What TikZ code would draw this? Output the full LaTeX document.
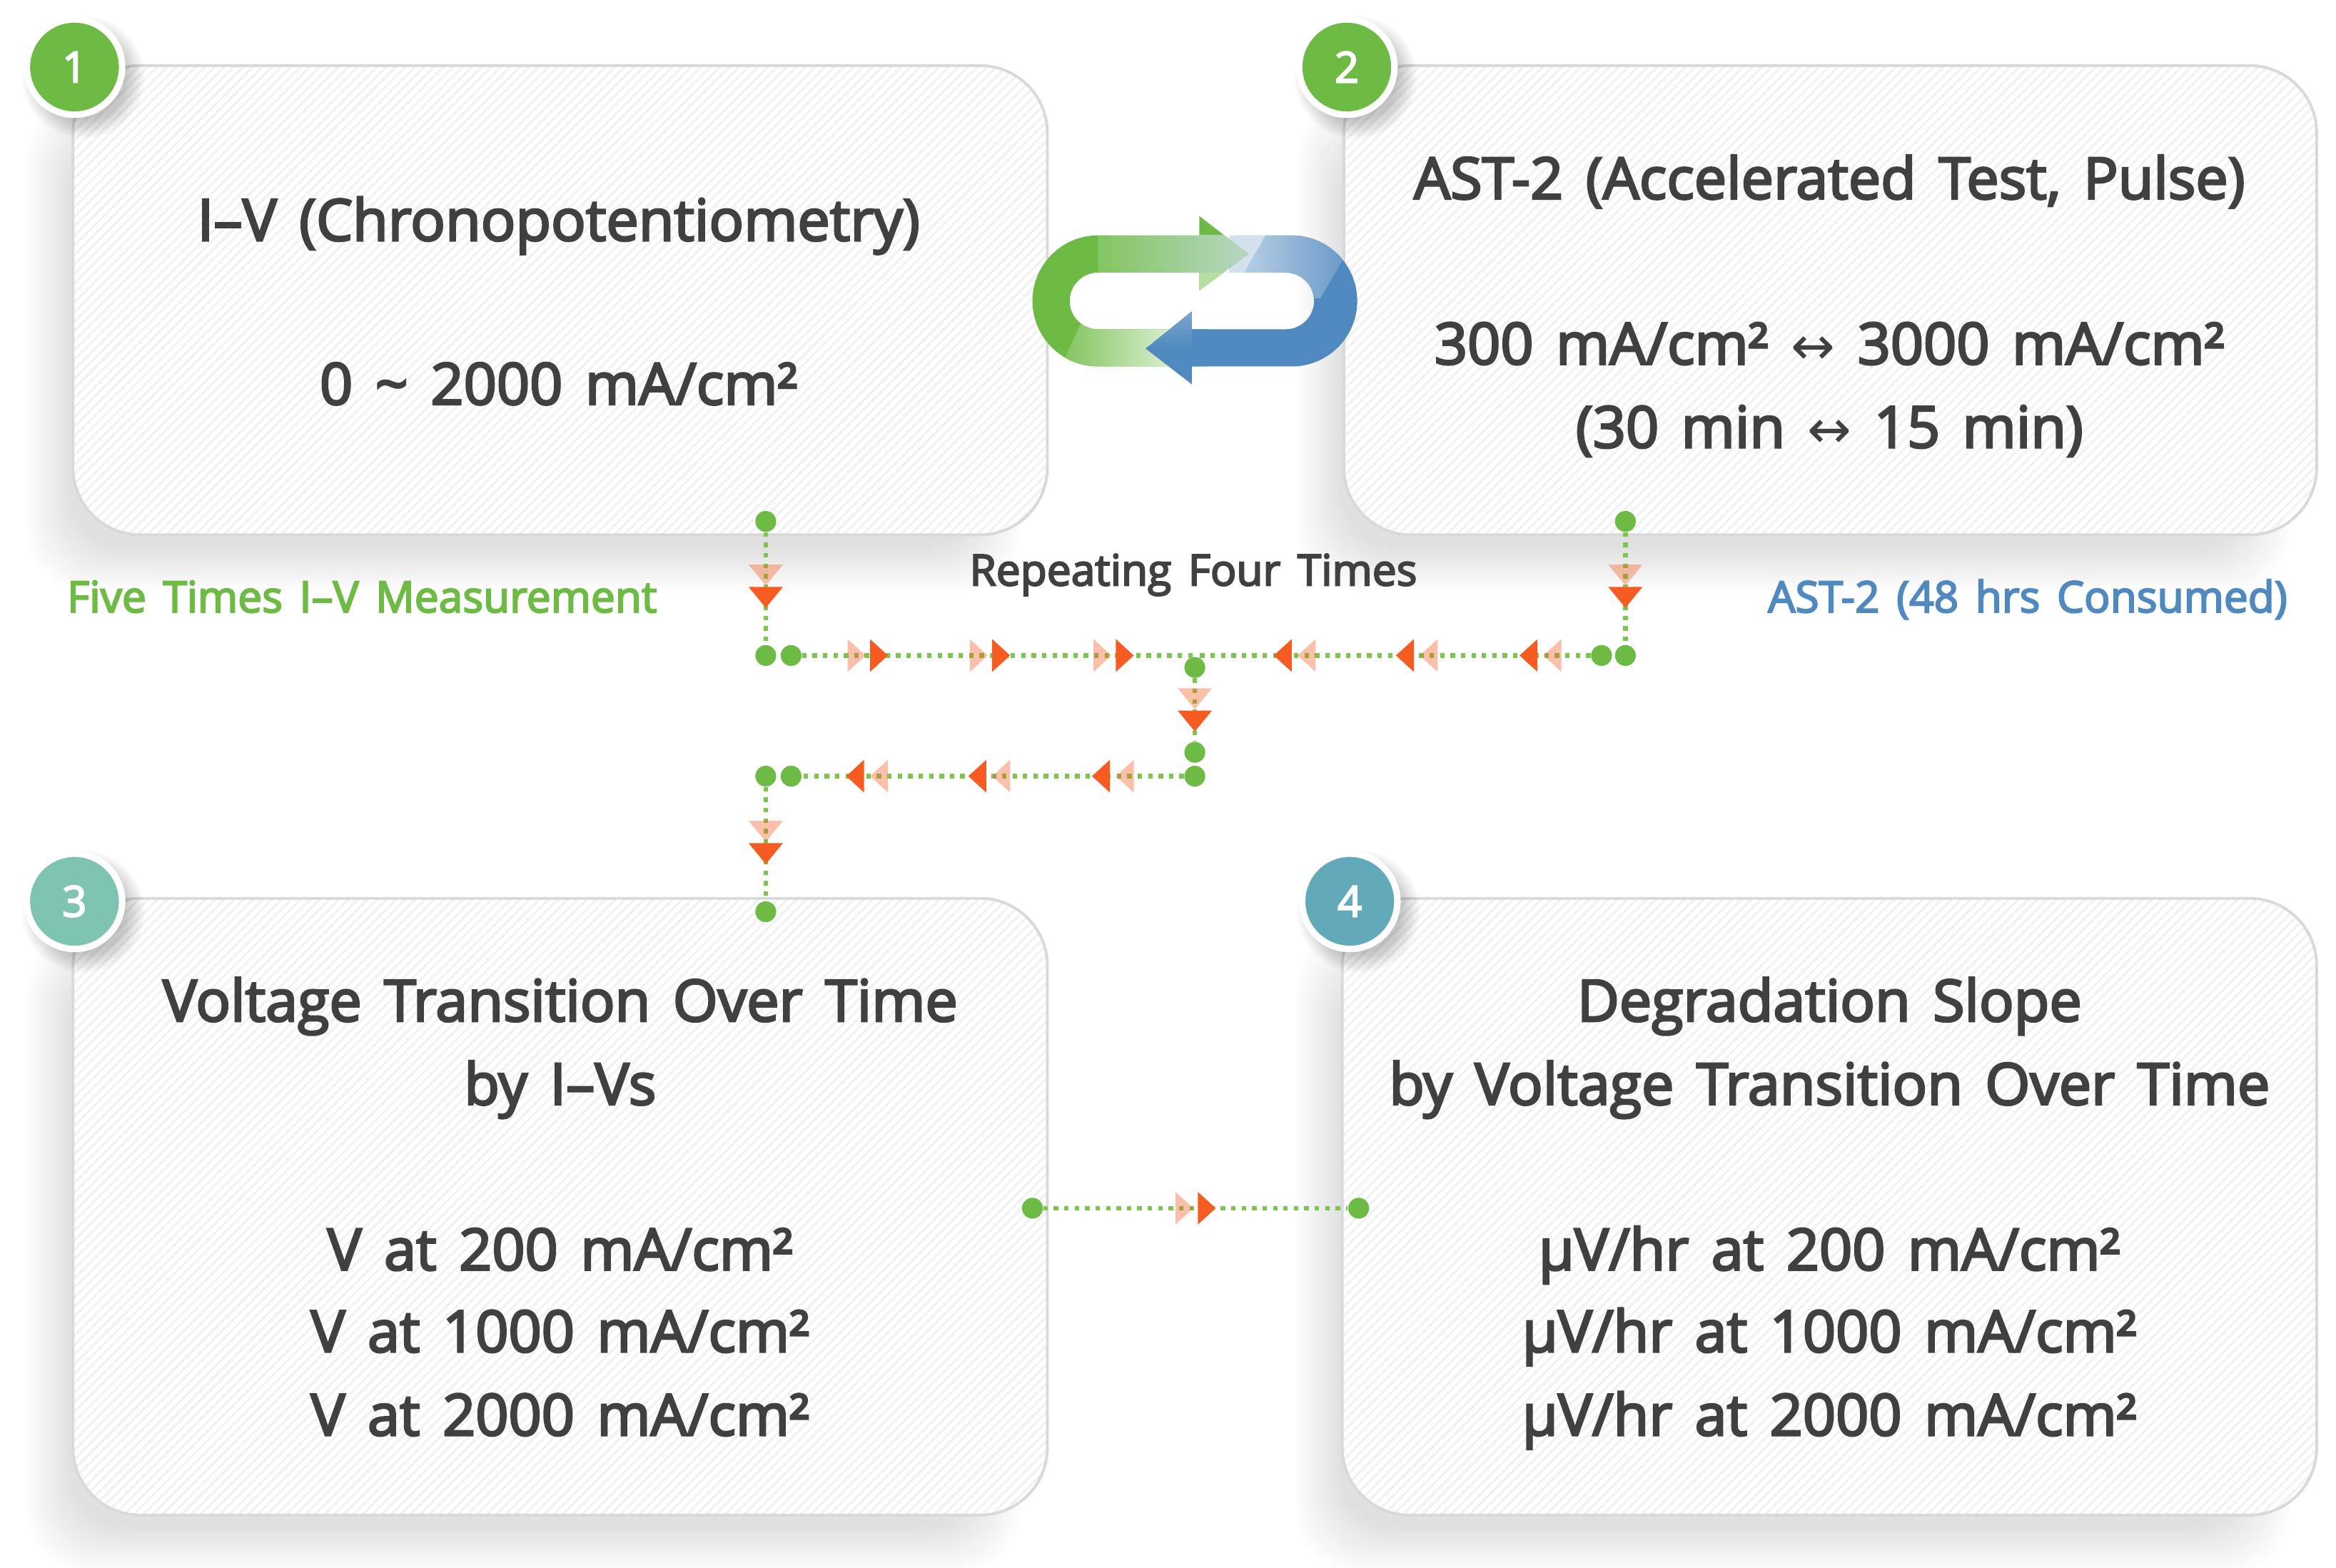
\documentclass[tikz,border=0pt]{standalone}
\usepackage{fontspec}
\setmainfont[WordSpace=1.5,FakeBold=3.5]{Open Sans}
\newfontfamily\arrowfont{DejaVu Sans}
\usetikzlibrary{shapes.geometric}
\definecolor{txt}{HTML}{404040}
\definecolor{gr}{HTML}{6DBB45}
\definecolor{grl}{HTML}{7CC650}
\definecolor{bl}{HTML}{5089BF}
\definecolor{org}{HTML}{F65C22}
\definecolor{teal1}{HTML}{7FC4B1}
\definecolor{teal2}{HTML}{62A9BA}
\newcommand{\bodyfs}{\fontsize{23}{27}\selectfont}
\newcommand{\lblfs}{\fontsize{17.2}{20}\selectfont}
\newcommand{\lra}{{\arrowfont\fontsize{21}{20}\selectfont ↔}}
\tikzset{x=0.020874cm,y=-0.020874cm,
  body/.style={text=txt,font=\bodyfs,inner sep=0pt,anchor=base},
  lbl/.style={font=\lblfs,inner sep=0pt,anchor=base},
  gdot/.style={circle,fill=gr,inner sep=0pt,minimum size=8.3pt},
  dotline/.style={grl,line width=1.8pt,dash pattern=on 1.8pt off 2.36pt},
  boxline/.style={draw=black!15,line width=1.1pt},
  badge/.style={circle,fill=#1,draw=white,line width=2.6pt,minimum size=38pt,inner sep=0pt,text=white,font=\fontsize{17}{20}\selectfont}
}
% card x0 y0 x1 y1
\newcommand{\card}[4]{%
  \foreach \k in {0,...,14}{
    \fill[black,opacity=0.009,rounded corners=24pt]
      ({#1-31+2*\k},{#2+21+2*\k}) rectangle ({#3-18-2*\k},{#4+38-2*\k});
  }
  \fill[white,rounded corners=26.8pt] (#1,#2) rectangle (#3,#4);
  \begin{scope}
    \clip[rounded corners=26.8pt] (#1,#2) rectangle (#3,#4);
    \foreach \i in {0,6.4,...,1060}{
      \draw[black!5,line width=0.9pt] ({#1+\i},#2) -- ({#1+\i-(#4-#2)},#4);
    }
  \end{scope}
  \draw[boxline,rounded corners=26.8pt] (#1,#2) rectangle (#3,#4);
}
\newcommand{\badgeshadow}[2]{%
  \foreach \k in {0,...,9}{
    \fill[black,opacity=0.022] ({#1+6},{#2+7}) circle ({41-1.4*\k});
  }
}
\newcommand{\triR}[3]{\fill[#3] ({#1-6},{#2-11}) -- ({#1+6},#2) -- ({#1-6},{#2+11}) -- cycle;}
\newcommand{\triL}[3]{\fill[#3] ({#1+6},{#2-11}) -- ({#1-6},#2) -- ({#1+6},{#2+11}) -- cycle;}
\newcommand{\triD}[3]{\fill[#3] ({#1-11.5},{#2-7}) -- ({#1+11.5},{#2-7}) -- (#1,{#2+7}) -- cycle;}
\tikzset{lit/.style={org,opacity=0.38},dark/.style={org}}
\begin{document}
\begin{tikzpicture}
\fill[white] (0,0) rectangle (1568,1052.5);
\useasboundingbox (0,0) rectangle (1568,1052.5);

\card{49}{44}{703}{359}
\card{902}{44}{1555}{359}
\card{49}{603}{703}{1017}
\card{901}{603}{1555}{1017}

% loop arrows: blue
\fill[bl] (830,158) -- (867,158) arc[start angle=-90,end angle=90,radius=44] -- (800,246) -- (800,221) -- (863,221) arc[start angle=90,end angle=-90,radius=19] -- (830,183) -- cycle;
\begin{scope}
  \clip (825,158) -- (867,158) arc[start angle=-90,end angle=90,radius=44] -- (863,221) arc[start angle=90,end angle=-90,radius=19] -- (825,183) -- cycle;
  \clip (820,150) rectangle (915,200);
  \fill[rotate around={-30:(868,178)},bl!25!white] (780,110) rectangle (842.2,250);
  \shade[rotate around={-30:(868,178)},left color=bl!25!white,right color=bl] (842,110) rectangle (895,250);
\end{scope}
% green
\begin{scope}
  \clip (800,246) -- (737,246) arc[start angle=90,end angle=270,radius=44] -- (805,158) -- (805,145) -- (838,170.5) -- (805,195) -- (805,183) -- (737,183) arc[start angle=270,end angle=90,radius=19] -- (800,221) -- cycle;
  \fill[gr] (690,140) rectangle (840,250);
  \begin{scope}
    \clip (700,202) rectangle (810,250);
    \fill[rotate around={-25:(760,233)},gr!12!white] (785,190) rectangle (830,300);
    \shade[left color=gr,right color=gr!12!white,rotate around={-25:(760,233)}] (722,190) rectangle (785.2,300);
  \end{scope}
  \shade[left color=gr!85!white,right color=bl!45!gr!45!white] (737,158) rectangle (838,183);
  \fill[gr!50!white] (805,183) rectangle (840,196);
\end{scope}
\fill[bl] (810,221) -- (800,221) -- (800,209) -- (769,234) -- (800,258) -- (800,246) -- (810,246) -- cycle;
\shade[top color=bl!75!white,bottom color=bl] (800,209) -- (769,234) -- (800,234) -- cycle;

% texts
\node[body] (t1a) at (375,161.5) {I–V (Chronopotentiometry)};
\node[body] (t1b) at (375,271.5) {0 \textasciitilde{} 2000 mA/cm²};
\node[body] (t2a) at (1228,133.5) {AST-2 (Accelerated Test, Pulse)};
\node[body] (t2b) at (1228,244.5) {300 mA/cm² \lra{} 3000 mA/cm²};
\node[body] (t2c) at (1228,300.5) {(30 min \lra{} 15 min)};
\node[body] (t3a) at (376,685.5) {Voltage Transition Over Time};
\node[body] (t3b) at (376,741.5) {by I–Vs};
\node[body] (t3c) at (376,852.5) {V at 200 mA/cm²};
\node[body] (t3d) at (376,907.5) {V at 1000 mA/cm²};
\node[body] (t3e) at (376,963.5) {V at 2000 mA/cm²};
\node[body] (t4a) at (1228,685.5) {Degradation Slope};
\node[body] (t4b) at (1228,741.5) {by Voltage Transition Over Time};
\node[body] (t4c) at (1228,852.5) {μV/hr at 200 mA/cm²};
\node[body] (t4d) at (1228,907.5) {μV/hr at 1000 mA/cm²};
\node[body] (t4e) at (1228,963.5) {μV/hr at 2000 mA/cm²};
\node[lbl,text=gr] (l1) at (243,411) {Five Times I–V Measurement};
\node[lbl,text=txt] (l2) at (801,393) {Repeating Four Times};
\node[lbl,text=bl] (l3) at (1361,411) {AST-2 (48 hrs Consumed)};

% badges
\badgeshadow{50}{45}\badgeshadow{904}{45}\badgeshadow{50}{605}\badgeshadow{906}{605}
\node[badge=gr] (b1) at (50,45) {1};
\node[badge=gr] (b2) at (904,45) {2};
\node[badge=teal1] (b3) at (50,605) {3};
\node[badge=teal2] (b4) at (906,605) {4};

% connector dots
\node[gdot] (a1) at (514,350) {};
\node[gdot] (a2) at (514,440) {};
\node[gdot] (a3) at (531,440) {};
\node[gdot] (c1) at (1091,350) {};
\node[gdot] (c2) at (1091,440) {};
\node[gdot] (c3) at (1075,440) {};
\node[gdot] (m1) at (802,448) {};
\node[gdot] (m2) at (802,505) {};
\node[gdot] (m3) at (802,521) {};
\node[gdot] (d1) at (531,521) {};
\node[gdot] (d2) at (514,521) {};
\node[gdot] (d3) at (514,612) {};
\node[gdot] (e1) at (693,811) {};
\node[gdot] (e2) at (912,811) {};
\coordinate (mt) at (802,440);

\draw[dotline] (a1) -- (a2);
\draw[dotline] (a3) -- (mt);
\draw[dotline] (c1) -- (c2);
\draw[dotline] (c3) -- (mt);
\draw[dotline] (m1) -- (m2);
\draw[dotline] (m3) -- (d1);
\draw[dotline] (d2) -- (d3);
\draw[dotline] (e1) -- (e2);

% arrowheads
\triD{514}{386}{lit}\triD{514}{401}{dark}
\triD{1091}{386}{lit}\triD{1091}{401}{dark}
\triD{802}{469}{lit}\triD{802}{484}{dark}
\triD{514}{558}{lit}\triD{514}{573}{dark}
\foreach \p in {575,657,740}{\triR{\p}{440}{lit}\triR{\p+15}{440}{dark}}
\foreach \p in {877,959,1042}{\triL{\p}{440}{lit}\triL{\p-16}{440}{dark}}
\foreach \p in {590,672,755}{\triL{\p}{521}{lit}\triL{\p-16}{521}{dark}}
\triR{795}{811}{lit}\triR{810}{811}{dark}
\end{tikzpicture}
\end{document}
